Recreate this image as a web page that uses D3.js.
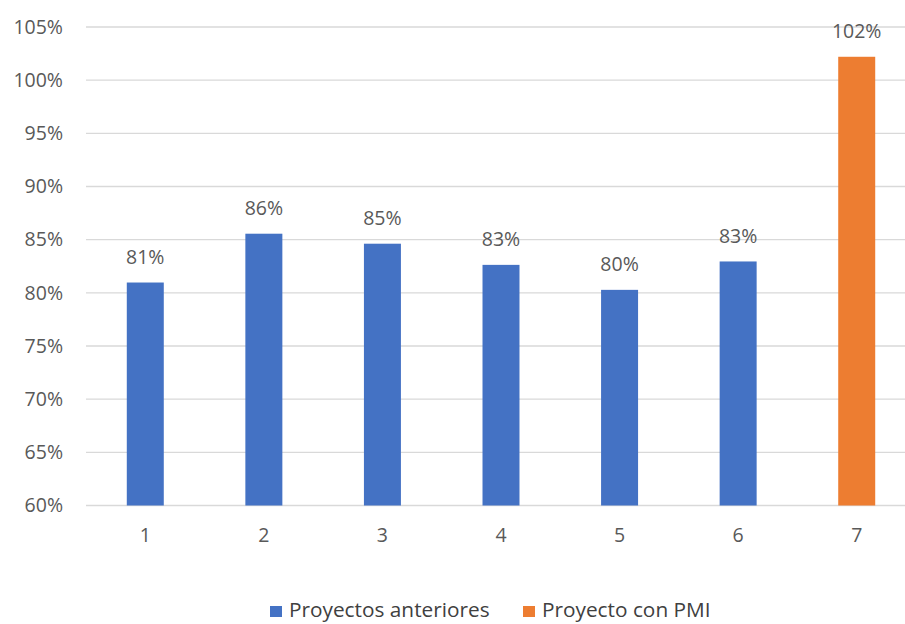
<!DOCTYPE html>
<html>
<head>
<meta charset="utf-8">
<script src="https://cdn.jsdelivr.net/npm/d3@7"></script>
<style>
  html, body { margin: 0; padding: 0; background: #fff; }
  svg { display: block; font-family: "Open Sans", sans-serif; }
</style>
</head>
<body>
<svg id="chart" width="905" height="624"></svg>
<script>
// Project categories and their values (fraction of target)
const categories = ["1", "2", "3", "4", "5", "6", "7"];
const values = [0.8097, 0.8556, 0.8462, 0.8263, 0.8028, 0.8295, 1.0220];
const seriesOf = ["prev", "prev", "prev", "prev", "prev", "prev", "pmi"];
const seriesNames = ["Proyectos anteriores", "Proyecto con PMI"];
const seriesKeys = ["prev", "pmi"];
const yTicks = [0.60, 0.65, 0.70, 0.75, 0.80, 0.85, 0.90, 0.95, 1.00, 1.05];

const data = categories.map((c, i) => ({ cat: c, value: values[i], series: seriesOf[i] }));

const svg = d3.select("#chart");
const plot = { left: 86, right: 916, top: 27, bottom: 505.5 };
const FONT = "'Open Sans', sans-serif";

const x = d3.scaleBand().domain(categories).range([plot.left, plot.right]).paddingInner(0.688).paddingOuter(0.344);
const y = d3.scaleLinear().domain([0.60, 1.05]).range([plot.bottom, plot.top]);
const color = d3.scaleOrdinal().domain(seriesKeys).range(["#4472C4", "#ED7D31"]);
const pct = d3.format(".0%");

// horizontal gridlines
svg.append("g")
  .selectAll("line")
  .data(yTicks)
  .join("line")
  .attr("x1", plot.left).attr("x2", 905)
  .attr("y1", d => y(d)).attr("y2", d => y(d))
  .attr("stroke", "#d9d9d9").attr("stroke-width", 1.3);

// y axis labels
const yAxis = d3.axisLeft(y).tickValues(yTicks).tickFormat(pct).tickSize(0).tickPadding(0);
const gy = svg.append("g").attr("transform", `translate(${plot.left - 23},0)`).call(yAxis);
gy.select(".domain").remove();
gy.selectAll("text").attr("fill", "#595959").style("font-size", "19.5px").style("font-family", FONT);

// x axis labels
const xAxis = d3.axisBottom(x).tickSize(0).tickPadding(0);
const gx = svg.append("g").attr("transform", `translate(0,${plot.bottom + 23})`).call(xAxis);
gx.select(".domain").remove();
gx.selectAll("text").attr("fill", "#595959").style("font-size", "19.5px").style("font-family", FONT);

// bars
svg.append("g")
  .selectAll("rect")
  .data(data)
  .join("rect")
  .attr("x", d => x(d.cat))
  .attr("width", x.bandwidth())
  .attr("y", d => y(d.value))
  .attr("height", d => y(0.60) - y(d.value))
  .attr("fill", d => color(d.series));

// value labels
svg.append("g")
  .selectAll("text")
  .data(data)
  .join("text")
  .attr("x", d => x(d.cat) + x.bandwidth() / 2)
  .attr("y", d => y(d.value) - 18.5)
  .attr("text-anchor", "middle")
  .attr("fill", "#595959")
  .style("font-size", "19.5px")
  .text(d => pct(d.value));

// legend
const legend = svg.append("g").attr("transform", "translate(270,617)");
const legendX = [0, 253];
seriesKeys.forEach((k, i) => {
  const g = legend.append("g").attr("transform", `translate(${legendX[i]},0)`);
  g.append("rect").attr("x", 0).attr("y", -11).attr("width", 12).attr("height", 11).attr("fill", color(k));
  g.append("text").attr("x", 19).attr("y", 0)
    .attr("fill", "#404040").style("font-size", "20.8px").text(seriesNames[i]);
});
</script>
</body>
</html>
